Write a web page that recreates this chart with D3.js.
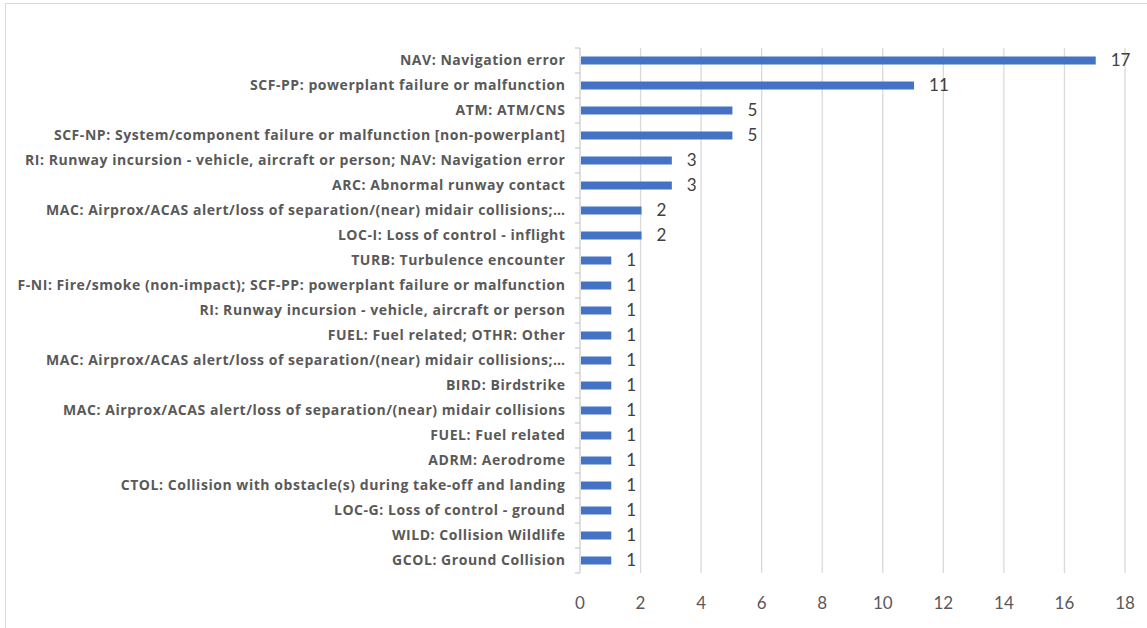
<!DOCTYPE html>
<html lang="en">
<head>
    <meta charset="UTF-8">
    <title>Occurrence categories</title>
    <style>
        body { margin: 0; background: #fff; }
        .frame { fill: none; stroke: #d9d9d9; stroke-width: 1px; }
        .grid line { stroke: #d9d9d9; stroke-width: 1.3px; }
        .cat-axis line { stroke: #bfbfbf; }
        .cat-label { font-family: "Open Sans", Lato, sans-serif; font-weight: bold; font-size: 14px; letter-spacing: 0.55px; fill: #595959; }
        .val-label { font-family: Lato, "Open Sans", sans-serif; font-size: 17px; fill: #404040; }
        .tick-label { font-family: Lato, "Open Sans", sans-serif; font-size: 17px; fill: #595959; }
    </style>
</head>
<body>
    <svg width="1147" height="628"></svg>

    <script src="https://d3js.org/d3.v7.min.js"></script>
    <script>
        var categories = [
            "NAV: Navigation error",
            "SCF-PP: powerplant failure or malfunction",
            "ATM: ATM/CNS",
            "SCF-NP: System/component failure or malfunction [non-powerplant]",
            "RI: Runway incursion - vehicle, aircraft or person; NAV: Navigation error",
            "ARC: Abnormal runway contact",
            "MAC: Airprox/ACAS alert/loss of separation/(near) midair collisions;…",
            "LOC-I: Loss of control - inflight",
            "TURB: Turbulence encounter",
            "F-NI: Fire/smoke (non-impact); SCF-PP: powerplant failure or malfunction",
            "RI: Runway incursion - vehicle, aircraft or person",
            "FUEL: Fuel related; OTHR: Other",
            "MAC: Airprox/ACAS alert/loss of separation/(near) midair collisions;…",
            "BIRD: Birdstrike",
            "MAC: Airprox/ACAS alert/loss of separation/(near) midair collisions",
            "FUEL: Fuel related",
            "ADRM: Aerodrome",
            "CTOL: Collision with obstacle(s) during take-off and landing",
            "LOC-G: Loss of control - ground",
            "WILD: Collision Wildlife",
            "GCOL: Ground Collision"
        ];
        var counts = [17, 11, 5, 5, 3, 3, 2, 2, 1, 1, 1, 1, 1, 1, 1, 1, 1, 1, 1, 1, 1];
        var xTicks = [0, 2, 4, 6, 8, 10, 12, 14, 16, 18];

        var svg = d3.select("svg");
        var plotLeft = 580, plotRight = 1125, plotTop = 48, plotBottom = 573;

        svg.append("rect").attr("class", "frame")
            .attr("x", 5.5).attr("y", 3.5).attr("width", 1160).attr("height", 640);

        var x = d3.scaleLinear().domain([0, 18]).range([plotLeft, plotRight]);
        var y = d3.scaleBand().domain(d3.range(categories.length))
            .range([plotTop, plotBottom]).paddingInner(0.68).paddingOuter(0.34);

        // vertical gridlines
        svg.append("g").attr("class", "grid")
            .selectAll("line")
            .data(xTicks.slice(1))
            .enter().append("line")
            .attr("x1", function (d) { return x(d); })
            .attr("x2", function (d) { return x(d); })
            .attr("y1", plotTop).attr("y2", plotBottom);

        // category axis, tick marks sit between the bands
        var axisG = svg.append("g").attr("class", "cat-axis");
        axisG.append("line").attr("x1", plotLeft).attr("x2", plotLeft).attr("y1", plotTop).attr("y2", plotBottom);
        var step = (plotBottom - plotTop) / categories.length;
        axisG.selectAll("line.tk")
            .data(d3.range(categories.length + 1))
            .enter().append("line").attr("class", "tk")
            .attr("x1", plotLeft - 5).attr("x2", plotLeft)
            .attr("y1", function (d) { return plotTop + d * step; })
            .attr("y2", function (d) { return plotTop + d * step; });

        svg.append("g").selectAll("text")
            .data(categories)
            .enter().append("text")
            .attr("class", "cat-label")
            .attr("x", plotLeft - 14.5)
            .attr("y", function (d, i) { return y(i) + y.bandwidth() / 2; })
            .attr("dy", "0.35em")
            .attr("text-anchor", "end")
            .text(function (d) { return d; });

        svg.append("g").selectAll("rect")
            .data(counts)
            .enter().append("rect")
            .attr("x", x(0) + 1)
            .attr("y", function (d, i) { return y(i); })
            .attr("width", function (d) { return x(d) - x(0); })
            .attr("height", y.bandwidth())
            .attr("fill", "#4472c4");

        svg.append("g").selectAll("text")
            .data(counts)
            .enter().append("text")
            .attr("class", "val-label")
            .attr("x", function (d) { return x(d) + 16; })
            .attr("y", function (d, i) { return y(i) + y.bandwidth() / 2; })
            .attr("dy", "0.35em")
            .text(function (d) { return d; });

        svg.append("g").selectAll("text")
            .data(xTicks)
            .enter().append("text")
            .attr("class", "tick-label")
            .attr("x", function (d) { return x(d); })
            .attr("y", 609)
            .attr("text-anchor", "middle")
            .text(function (d) { return d; });
    </script>
</body>
</html>
